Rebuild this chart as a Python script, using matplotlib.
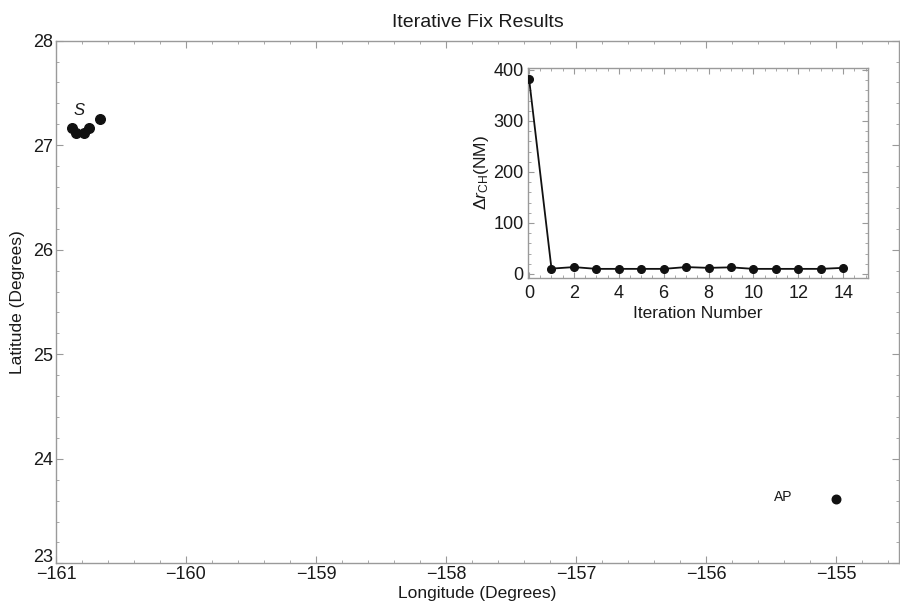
import matplotlib
matplotlib.use("Agg")
import matplotlib.pyplot as plt
from matplotlib.ticker import MultipleLocator
from matplotlib import font_manager
from matplotlib.transforms import ScaledTranslation

# ---- data ----
fix_lon = [-160.879, -160.848, -160.785, -160.744, -160.662]
fix_lat = [27.163, 27.115, 27.120, 27.163, 27.249]
ap_lon = [-155.0]
ap_lat = [23.615]
iter_num = list(range(15))
delta_r = [383, 10.5, 13.5, 10, 10, 10, 10, 13.5, 12, 13, 10, 10, 10, 10, 12]

names = {f.name for f in font_manager.fontManager.ttflist}
fam = "Liberation Sans Narrow" if "Liberation Sans Narrow" in names else "Liberation Sans"
plt.rcParams['font.family'] = [fam, 'DejaVu Sans']
plt.rcParams['mathtext.fontset'] = 'custom'
plt.rcParams['mathtext.rm'] = fam
plt.rcParams['mathtext.it'] = fam + ':italic'

txt = '#1a1a1a'
axc = '#9a9a9a'

fig = plt.figure(figsize=(9, 6.1), dpi=100)
ax = fig.add_axes([0.0622, 0.0765, 0.9368, 0.8568])
ax.scatter(fix_lon, fix_lat, s=48, color='#111111', zorder=3)
ax.scatter(ap_lon, ap_lat, s=38, color='#111111', zorder=3)
ax.text(-160.82, 27.33, 'S', fontsize=12, style='italic', color=txt, ha='center', va='center')
ax.text(-155.41, 23.635, 'AP', fontsize=10, color=txt, ha='center', va='center')

ax.set_xlim(-161, -154.515)
ax.set_ylim(23, 28)
ax.xaxis.set_minor_locator(MultipleLocator(0.2))
ax.yaxis.set_major_locator(MultipleLocator(1))
ax.yaxis.set_minor_locator(MultipleLocator(0.2))
ax.set_xticks([-161, -160, -159, -158, -157, -156, -155])
ax.set_xticklabels(['\u2212161', '\u2212160', '\u2212159', '\u2212158', '\u2212157', '\u2212156', '\u2212155'])
for s in ax.spines.values():
    s.set_color(axc)
    s.set_linewidth(1.0)
ax.tick_params(which='both', direction='in', top=True, right=True, color=axc, labelcolor=txt, labelsize=13)
ax.tick_params(which='major', length=5, pad=2)
ax.tick_params(which='minor', length=2.5)
ax.set_xlabel('Longitude (Degrees)', fontsize=12.5, color=txt, labelpad=2)
ax.set_ylabel('Latitude (Degrees)', fontsize=12.5, color=txt, labelpad=6)
ax.set_title('Iterative Fix Results', fontsize=14, color=txt, pad=10)

# nudge the corner labels like the reference (23 sits above -161)
fig.canvas.draw()
ylabs = ax.get_yticklabels()
for lab in ylabs:
    if lab.get_text() == '23':
        lab.set_transform(lab.get_transform() + ScaledTranslation(0, 6 / 72, fig.dpi_scale_trans))

ins = fig.add_axes([0.5867, 0.5448, 0.3778, 0.3443])
ins.plot(iter_num, delta_r, color='#111111', lw=1.3, marker='o', ms=5.5, zorder=3)
ins.set_xlim(-0.045, 15.11)
ins.set_ylim(-7.25, 404.5)
ins.xaxis.set_major_locator(MultipleLocator(2))
ins.xaxis.set_minor_locator(MultipleLocator(0.5))
ins.yaxis.set_major_locator(MultipleLocator(100))
ins.yaxis.set_minor_locator(MultipleLocator(20))
for s in ins.spines.values():
    s.set_color(axc)
    s.set_linewidth(1.0)
ins.tick_params(which='both', direction='in', top=True, right=True, color=axc, labelcolor=txt, labelsize=13)
ins.tick_params(which='major', length=4, pad=3)
ins.tick_params(which='minor', length=2)
ins.tick_params(axis='x', which='major', pad=5)
ins.set_xlabel('Iteration Number', fontsize=12.5, color=txt, labelpad=3)
ins.set_ylabel(r'$\Delta r_{\mathrm{CH}}$(NM)', fontsize=12.5, color=txt, labelpad=2)

fig.savefig('out.png', dpi=100)
